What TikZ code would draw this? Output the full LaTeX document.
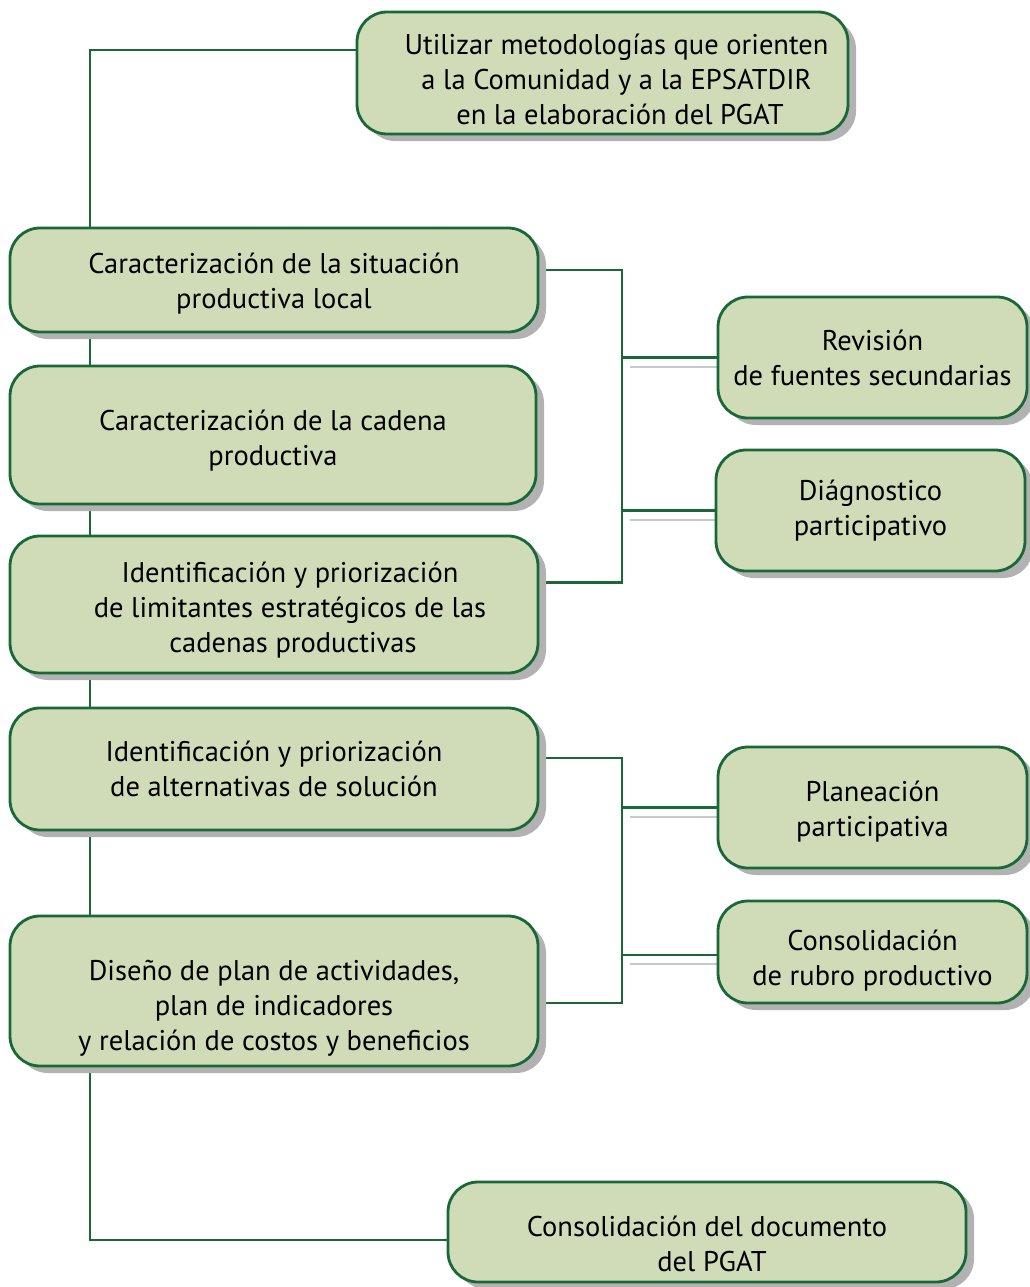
\documentclass[tikz,border=0pt]{standalone}
\usepackage{fontspec}
\setmainfont{PT Sans}
\usetikzlibrary{shadows,backgrounds}
\definecolor{boxfill}{RGB}{208,220,184}
\definecolor{boxline}{RGB}{24,104,56}
\definecolor{shade}{RGB}{178,178,178}
\definecolor{gl}{RGB}{200,200,200}
\newcommand\tstr[1]{\rule{0pt}{#1}}
\tikzset{
  box/.style={draw=boxline, line width=2.8pt, fill=boxfill, rounded corners=30pt,
    align=center, inner sep=0pt, font=\fontsize{28.5}{35}\selectfont,
    drop shadow={shadow xshift=8pt, shadow yshift=-7pt, fill=shade, opacity=1}},
  conn/.style={draw=boxline, line width=2.4pt},
  gline/.style={draw=gl, line width=2pt}
}
\begin{document}
\begin{tikzpicture}[x=1pt,y=-1pt]
\useasboundingbox (0,0) rectangle (1029,1287);
\node[box, minimum width=491pt, minimum height=122pt] (top) at (602.5,73) {\tstr{34pt}\hspace*{28pt}Utilizar metodologías que orienten\\\hspace*{28pt}a la Comunidad y a la EPSATDIR\\\hspace*{35pt}en la elaboración del PGAT};
\node[box, minimum width=528pt, minimum height=104pt] (a) at (274,280) {\tstr{28pt}Caracterización de la situación\\productiva local};
\node[box, minimum width=526pt, minimum height=138pt] (b) at (273,435) {\tstr{32pt}Caracterización de la cadena\\productiva};
\node[box, minimum width=528pt, minimum height=137pt] (c) at (274,604.5) {\tstr{32pt}\hspace*{32pt}Identificación y priorización\\\hspace*{32pt}de limitantes estratégicos de las\\\hspace*{38pt}cadenas productivas};
\node[box, minimum width=528pt, minimum height=122pt] (d) at (274,769) {Identificación y priorización\\de alternativas de solución};
\node[box, minimum width=528pt, minimum height=150pt] (e) at (274,991) {\tstr{54pt}Diseño de plan de actividades,\\plan de indicadores\\y relación de costos y beneficios};
\node[box, minimum width=518pt, minimum height=100pt] (bot) at (707,1232) {\tstr{44pt}Consolidación del documento\\\hspace*{10pt}del PGAT};
\node[box, minimum width=309pt, minimum height=121pt] (r1) at (872.5,357.5) {Revisión\\de fuentes secundarias};
\node[box, minimum width=309pt, minimum height=121pt] (r2) at (870.5,510.5) {Diágnostico\\participativo};
\node[box, minimum width=309pt, minimum height=121pt] (r3) at (872.5,807.5) {\tstr{28pt}Planeación\\participativa};
\node[box, minimum width=309pt, minimum height=102pt] (r4) at (872.5,952) {\tstr{38pt}Consolidación\\de rubro productivo};
\coordinate (sp) at (90,600);
\coordinate (br1) at (622,430);
\coordinate (br2) at (622,880);
\begin{scope}[on background layer]
\draw[conn] ([yshift=23pt]top.west) -| (sp) |- ([yshift=-8pt]bot.west);
\draw[conn] ([yshift=10pt]a.east) -| (br1) |- ([yshift=22pt]c.east);
\draw[conn] (r1.west) -- (r1.west -| br1);
\draw[conn] (r2.west) -- (r2.west -| br1);
\draw[conn] ([yshift=11pt]d.east) -| (br2) |- ([yshift=-12pt]e.east);
\draw[conn] (r3.west) -- (r3.west -| br2);
\draw[conn] ([yshift=-3pt]r4.west) -- ([yshift=-3pt]r4.west -| br2);
\draw[gline] ([xshift=8pt,yshift=-9pt]r1.west -| br1) -- ([yshift=-9pt]r1.west);
\draw[gline] ([xshift=8pt,yshift=-9pt]r2.west -| br1) -- ([yshift=-9pt]r2.west);
\draw[gline] ([xshift=8pt,yshift=-9pt]r3.west -| br2) -- ([yshift=-9pt]r3.west);
\draw[gline] ([xshift=8pt,yshift=-12pt]r4.west -| br2) -- ([yshift=-12pt]r4.west);
\end{scope}
\end{tikzpicture}
\end{document}
